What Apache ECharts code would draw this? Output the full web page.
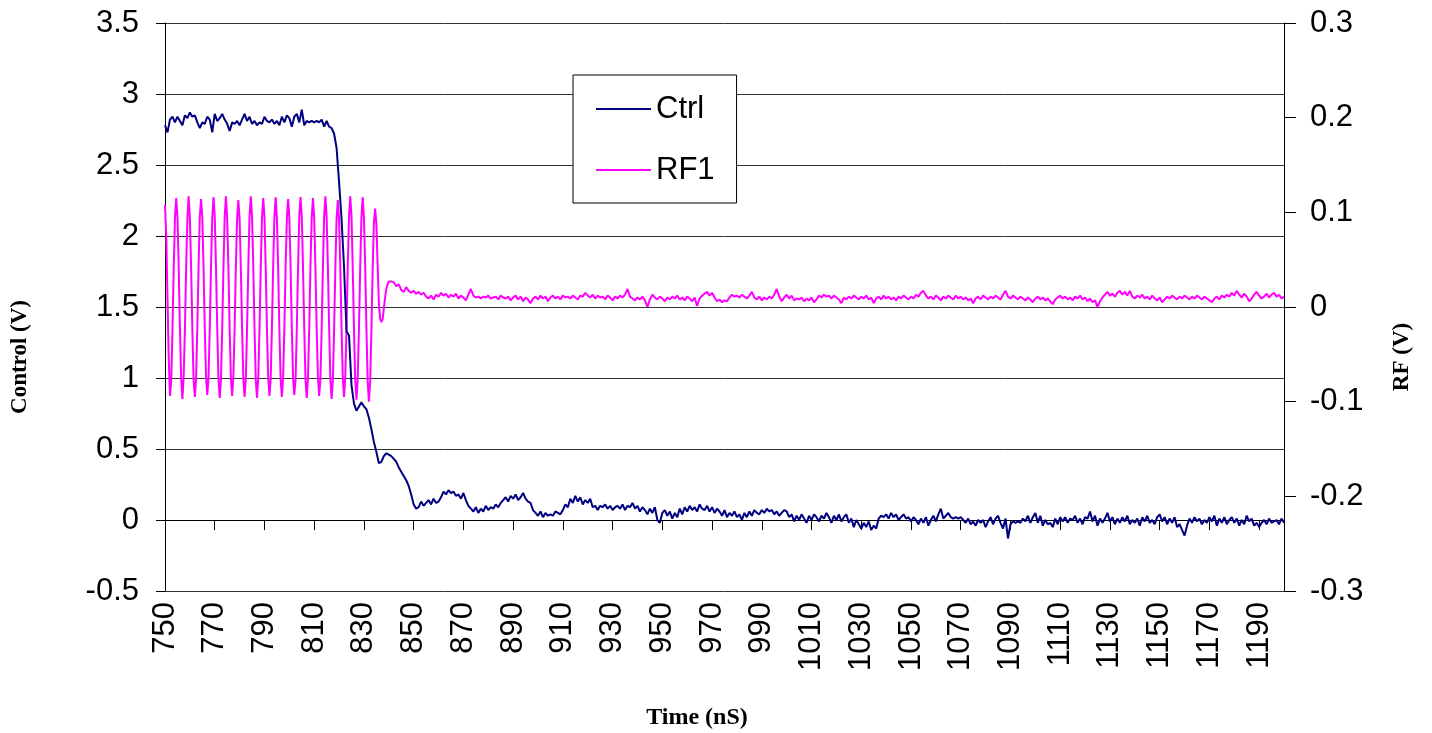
<!DOCTYPE html>
<html>
<head>
<meta charset="utf-8">
<title>Ctrl / RF1</title>
<script src="https://cdn.jsdelivr.net/npm/echarts@6/dist/echarts.min.js"></script>
<style>
  html, body { margin: 0; padding: 0; background: #fff; }
  #chart { width: 1432px; height: 733px; }
</style>
</head>
<body>
<div id="chart"></div>
<script>
// Ctrl trace, one sample per ns from 750 ns
var ctrlStart = 750, ctrlStep = 1;
var ctrlV = [
  // 750
  2.78, 2.73, 2.82, 2.84, 2.80, 2.84, 2.81, 2.78, 2.85, 2.83,
  2.87, 2.84, 2.85, 2.80, 2.76, 2.80, 2.79, 2.84, 2.82, 2.73,
  2.86, 2.81, 2.83, 2.86, 2.82, 2.79, 2.74, 2.80, 2.79, 2.81,
  2.78, 2.82, 2.86, 2.81, 2.84, 2.79, 2.81, 2.78, 2.80, 2.79,
  2.84, 2.81, 2.80, 2.82, 2.79, 2.81, 2.78, 2.84, 2.80, 2.85,
  // 800
  2.83, 2.77, 2.84, 2.86, 2.80, 2.89, 2.78, 2.81, 2.80, 2.81,
  2.80, 2.81, 2.80, 2.82, 2.77, 2.81, 2.77, 2.76, 2.72, 2.62,
  2.38, 2.12, 1.78, 1.33, 1.30, 0.95, 0.82, 0.77, 0.80, 0.83,
  0.80, 0.78, 0.72, 0.64, 0.55, 0.48, 0.40, 0.41, 0.45, 0.47,
  0.46, 0.45, 0.43, 0.41, 0.37, 0.34, 0.31, 0.28, 0.24, 0.18,
  // 850
  0.11, 0.08, 0.09, 0.13, 0.10, 0.12, 0.14, 0.11, 0.15, 0.12,
  0.13, 0.16, 0.20, 0.18, 0.21, 0.19, 0.20, 0.17, 0.18, 0.15,
  0.19, 0.14, 0.10, 0.08, 0.06, 0.09, 0.05, 0.08, 0.06, 0.10,
  0.07, 0.09, 0.08, 0.11, 0.09, 0.12, 0.14, 0.16, 0.13, 0.17,
  0.15, 0.18, 0.14, 0.16, 0.19, 0.15, 0.13, 0.12, 0.07, 0.05,
  // 900
  0.03, 0.06, 0.02, 0.05, 0.03, 0.04, 0.03, 0.06, 0.05, 0.04,
  0.07, 0.11, 0.09, 0.15, 0.12, 0.17, 0.13, 0.16, 0.11, 0.14,
  0.12, 0.15, 0.09, 0.10, 0.07, 0.10, 0.09, 0.11, 0.08, 0.10,
  0.07, 0.09, 0.10, 0.08, 0.11, 0.07, 0.10, 0.09, 0.12, 0.08,
  0.10, 0.06, 0.09, 0.07, 0.04, 0.08, 0.05, 0.09, 0.00, -0.02,
  // 950
  0.05, 0.07, 0.03, 0.06, 0.01, 0.05, 0.02, 0.08, 0.04, 0.09,
  0.06, 0.10, 0.07, 0.09, 0.06, 0.11, 0.08, 0.07, 0.10, 0.06,
  0.09, 0.05, 0.08, 0.06, 0.03, 0.07, 0.02, 0.05, 0.03, 0.06,
  0.02, 0.04, 0.00, 0.05, 0.02, 0.06, 0.03, 0.07, 0.05, 0.04,
  0.07, 0.05, 0.08, 0.06, 0.07, 0.04, 0.06, 0.03, 0.05, 0.07,
  // 1000
  0.06, 0.02, 0.04, -0.01, 0.03, 0.00, 0.04, 0.01, -0.02, 0.03,
  0.00, 0.04, 0.02, -0.01, 0.03, 0.01, 0.05, 0.02, -0.02, 0.03,
  0.00, 0.04, -0.01, 0.02, 0.04, -0.02, 0.01, -0.05, 0.00, -0.03,
  -0.06, -0.02, -0.05, -0.01, -0.07, -0.04, -0.06, 0.01, 0.03, 0.02,
  0.04, 0.01, 0.05, 0.02, 0.04, 0.00, 0.02, 0.04, 0.01, 0.02,
  // 1050
  -0.01, 0.02, 0.00, -0.03, 0.01, -0.02, 0.02, -0.04, 0.00, 0.03,
  -0.01, 0.04, 0.08, 0.01, 0.03, 0.05, 0.02, 0.01, 0.02, 0.01,
  0.02, 0.00, -0.02, 0.01, -0.03, -0.01, -0.04, 0.00, -0.02, 0.00,
  -0.05, -0.01, 0.02, -0.03, 0.01, 0.03, -0.02, -0.06, 0.01, -0.13,
  -0.03, -0.01, -0.02, -0.01, -0.02, 0.01, -0.01, 0.03, -0.02, 0.02,
  // 1100
  0.05, -0.02, 0.03, -0.04, 0.00, -0.03, -0.02, -0.05, 0.01, -0.03,
  0.02, -0.01, 0.02, -0.02, 0.01, 0.00, 0.03, -0.02, 0.01, -0.03,
  0.02, 0.01, 0.06, -0.01, 0.03, -0.04, 0.01, -0.02, 0.01, 0.05,
  -0.01, 0.02, -0.03, 0.01, -0.02, 0.02, -0.01, 0.03, -0.03, 0.00,
  -0.02, 0.01, -0.04, 0.02, -0.01, 0.03, -0.02, 0.00, -0.03, 0.02,
  // 1150
  0.04, -0.01, 0.02, -0.03, 0.01, -0.02, 0.02, -0.05, -0.03, -0.07,
  -0.11, -0.04, 0.01, -0.02, 0.02, -0.01, 0.01, -0.03, 0.00, -0.02,
  0.02, -0.01, 0.03, -0.04, 0.01, -0.02, 0.02, -0.03, 0.00, 0.02,
  -0.02, 0.01, -0.04, 0.00, -0.03, 0.03, -0.01, 0.01, -0.04, -0.02,
  -0.05, -0.02, 0.00, -0.03, 0.01, -0.02, -0.01, 0.00, -0.03, 0.01,
  // 1200
  -0.02
];

// RF1 burst, every 0.5 ns from 750 to 840 ns
var rfBurstStart = 750, rfBurstStep = 0.5;
var rfBurst = [
  0.108, 0.075, 0.010, -0.055, -0.094, -0.078, -0.025, 0.040, 0.094,
  // peak at 754.5
  0.115, 0.096, 0.043, -0.022, -0.075, -0.097, -0.074, -0.024, 0.041, 0.093,
  0.117, 0.094, 0.042, -0.024, -0.077, -0.095, -0.076, -0.022, 0.043, 0.096,
  0.114, 0.095, 0.041, -0.023, -0.074, -0.093, -0.075, -0.023, 0.042, 0.094,
  0.116, 0.096, 0.043, -0.021, -0.076, -0.096, -0.077, -0.024, 0.041, 0.095,
  0.117, 0.094, 0.042, -0.023, -0.075, -0.094, -0.074, -0.022, 0.043, 0.093,
  // peak at 779.5
  0.113, 0.093, 0.041, -0.024, -0.076, -0.095, -0.076, -0.023, 0.042, 0.096,
  0.117, 0.096, 0.043, -0.022, -0.077, -0.096, -0.075, -0.024, 0.041, 0.094,
  0.115, 0.095, 0.042, -0.023, -0.074, -0.094, -0.076, -0.022, 0.043, 0.095,
  0.116, 0.094, 0.041, -0.024, -0.076, -0.095, -0.074, -0.023, 0.042, 0.093,
  0.114, 0.095, 0.043, -0.022, -0.075, -0.093, -0.077, -0.024, 0.041, 0.096,
  // peak at 804.5
  0.116, 0.096, 0.042, -0.023, -0.077, -0.096, -0.075, -0.022, 0.043, 0.094,
  0.115, 0.094, 0.041, -0.024, -0.074, -0.094, -0.076, -0.023, 0.042, 0.095,
  0.117, 0.095, 0.043, -0.021, -0.076, -0.097, -0.077, -0.024, 0.041, 0.093,
  0.113, 0.093, 0.042, -0.023, -0.075, -0.095, -0.074, -0.022, 0.043, 0.096,
  0.117, 0.096, 0.041, -0.024, -0.077, -0.098, -0.076, -0.023, 0.042, 0.095,
  0.116, 0.094, 0.043, -0.022, -0.078, -0.100, -0.079, -0.025, 0.038, 0.088,
  // last peak at 834.5, then settling
  0.104, 0.088, 0.045, 0.005, -0.012, -0.016, -0.013, -0.002, 0.010, 0.019,
  0.024, 0.027
];

// RF1 after the burst, one sample per ns from 841 ns
var rfTailStart = 841, rfTailStep = 1;
var rfTail = [
  0.027, 0.026, 0.022, 0.024, 0.018, 0.016, 0.021, 0.017, 0.015,
  // 850
  0.017, 0.014, 0.016, 0.013, 0.015, 0.011, 0.009, 0.012, 0.008, 0.013,
  0.011, 0.015, 0.012, 0.014, 0.010, 0.013, 0.011, 0.014, 0.009, 0.012,
  0.010, 0.007, 0.013, 0.019, 0.012, 0.010, 0.011, 0.009, 0.011, 0.010,
  0.012, 0.009, 0.010, 0.011, 0.008, 0.012, 0.010, 0.009, 0.011, 0.007,
  0.010, 0.012, 0.008, 0.011, 0.006, 0.010, 0.008, 0.004, 0.009, 0.011,
  // 900
  0.008, 0.012, 0.009, 0.011, 0.006, 0.010, 0.012, 0.009, 0.011, 0.008,
  0.012, 0.010, 0.011, 0.009, 0.012, 0.010, 0.008, 0.012, 0.011, 0.015,
  0.012, 0.010, 0.013, 0.009, 0.012, 0.010, 0.011, 0.008, 0.012, 0.010,
  0.007, 0.011, 0.009, 0.012, 0.010, 0.013, 0.019, 0.011, 0.009, 0.007,
  0.010, 0.008, 0.011, 0.007, 0.000, 0.008, 0.013, 0.010, 0.008, 0.011,
  // 950
  0.009, 0.006, 0.010, 0.008, 0.011, 0.009, 0.012, 0.008, 0.010, 0.007,
  0.011, 0.009, 0.006, 0.010, 0.001, 0.009, 0.012, 0.014, 0.016, 0.012,
  0.015, 0.010, 0.006, 0.008, 0.005, 0.007, 0.006, 0.010, 0.013, 0.011,
  0.012, 0.010, 0.013, 0.011, 0.009, 0.012, 0.016, 0.010, 0.008, 0.011,
  0.007, 0.010, 0.008, 0.011, 0.009, 0.013, 0.019, 0.011, 0.006, 0.010,
  // 1000
  0.013, 0.009, 0.012, 0.007, 0.009, 0.008, 0.010, 0.006, 0.009, 0.007,
  0.010, 0.005, 0.008, 0.012, 0.010, 0.013, 0.011, 0.012, 0.009, 0.012,
  0.010, 0.008, 0.004, 0.010, 0.008, 0.011, 0.009, 0.012, 0.010, 0.008,
  0.011, 0.009, 0.012, 0.008, 0.010, 0.004, 0.009, 0.011, 0.008, 0.012,
  0.009, 0.011, 0.008, 0.010, 0.007, 0.011, 0.009, 0.012, 0.010, 0.008,
  // 1050
  0.011, 0.009, 0.013, 0.011, 0.015, 0.017, 0.012, 0.009, 0.011, 0.008,
  0.012, 0.010, 0.007, 0.011, 0.009, 0.012, 0.010, 0.008, 0.012, 0.009,
  0.011, 0.008, 0.010, 0.007, 0.009, 0.004, 0.009, 0.011, 0.008, 0.012,
  0.010, 0.008, 0.011, 0.009, 0.012, 0.010, 0.008, 0.013, 0.017, 0.011,
  0.009, 0.012, 0.010, 0.008, 0.011, 0.009, 0.007, 0.010, 0.008, 0.005,
  // 1100
  0.009, 0.011, 0.008, 0.010, 0.007, 0.009, 0.006, 0.003, 0.008, 0.010,
  0.012, 0.009, 0.011, 0.008, 0.010, 0.007, 0.011, 0.009, 0.012, 0.008,
  0.010, 0.006, 0.009, 0.005, 0.007, 0.000, 0.006, 0.010, 0.013, 0.016,
  0.012, 0.014, 0.011, 0.015, 0.017, 0.013, 0.016, 0.012, 0.017, 0.011,
  0.009, 0.012, 0.010, 0.013, 0.009, 0.011, 0.008, 0.012, 0.009, 0.007,
  // 1150
  0.010, 0.005, 0.008, 0.011, 0.009, 0.012, 0.010, 0.008, 0.011, 0.009,
  0.012, 0.010, 0.008, 0.011, 0.009, 0.012, 0.010, 0.008, 0.011, 0.009,
  0.007, 0.005, 0.009, 0.011, 0.008, 0.012, 0.010, 0.013, 0.011, 0.015,
  0.012, 0.017, 0.013, 0.010, 0.014, 0.011, 0.006, 0.009, 0.013, 0.016,
  0.012, 0.009, 0.011, 0.014, 0.010, 0.013, 0.015, 0.011, 0.013, 0.009,
  // 1200
  0.011
];

var seriesNames = ["Ctrl", "RF1"];

// pair each value with its sample time
var ctrlData = ctrlV.map(function (v, i) {
  return [ctrlStart + i * ctrlStep, v];
});
var rfData = rfBurst.map(function (v, i) {
  return [rfBurstStart + i * rfBurstStep, v];
}).concat(rfTail.map(function (v, i) {
  return [rfTailStart + i * rfTailStep, v];
}));

var sans = "Liberation Sans, Arial, sans-serif";
var serif = "Liberation Serif, Times New Roman, serif";

var chart = echarts.init(document.getElementById("chart"));
chart.setOption({
  animation: false,
  backgroundColor: "#fff",
  grid: { left: 165, right: 148, top: 23, bottom: 142, containLabel: false },
  legend: {
    data: seriesNames,
    orient: "vertical",
    left: 573,
    top: 75,
    padding: [18, 22, 17, 23],
    itemGap: 29,
    icon: "rect",
    itemWidth: 55,
    itemHeight: 2,
    backgroundColor: "#fff",
    borderColor: "#000",
    borderWidth: 1,
    borderRadius: 0,
    textStyle: { fontFamily: sans, fontSize: 31, color: "#000", lineHeight: 32 }
  },
  xAxis: {
    type: "value",
    min: 750,
    max: 1200,
    interval: 20,
    axisLine: { lineStyle: { color: "#000", width: 1 } },
    axisTick: { show: true, length: 10, lineStyle: { color: "#000" } },
    splitLine: { show: false },
    axisLabel: {
      rotate: 90,
      margin: 11,
      showMaxLabel: false,
      fontFamily: sans,
      fontSize: 31,
      color: "#000",
      formatter: function (v) { return String(v); }
    }
  },
  yAxis: [
    {
      type: "value",
      min: -0.5,
      max: 3.5,
      interval: 0.5,
      position: "left",
      axisLine: { show: true, lineStyle: { color: "#000", width: 1 } },
      axisTick: { show: true, length: 9, lineStyle: { color: "#000" } },
      splitLine: { show: true, lineStyle: { color: "#333", width: 1 } },
      axisLabel: { margin: 26, fontFamily: sans, fontSize: 31, color: "#000" }
    },
    {
      type: "value",
      min: -0.3,
      max: 0.3,
      interval: 0.1,
      position: "right",
      axisLine: { show: true, lineStyle: { color: "#000", width: 1 } },
      axisTick: { show: true, length: 12, lineStyle: { color: "#000" } },
      splitLine: { show: false },
      axisLabel: { margin: 26, fontFamily: sans, fontSize: 31, color: "#000" }
    }
  ],
  graphic: [
    {
      type: "text",
      x: 697,
      y: 706,
      style: {
        text: "Time (nS)",
        font: "bold 24px " + serif,
        fill: "#000",
        align: "center",
        verticalAlign: "top"
      }
    },
    {
      type: "text",
      x: 9,
      y: 357,
      rotation: Math.PI / 2,
      style: {
        text: "Control (V)",
        font: "bold 23px " + serif,
        fill: "#000",
        align: "center",
        verticalAlign: "top"
      }
    },
    {
      type: "text",
      x: 1391,
      y: 357,
      rotation: Math.PI / 2,
      style: {
        text: "RF (V)",
        font: "bold 23px " + serif,
        fill: "#000",
        align: "center",
        verticalAlign: "top"
      }
    }
  ],
  series: [
    {
      name: "RF1",
      type: "line",
      yAxisIndex: 1,
      data: rfData,
      symbol: "none",
      z: 2,
      color: "#ff00ff",
      lineStyle: { color: "#ff00ff", width: 2 }
    },
    {
      name: "Ctrl",
      type: "line",
      yAxisIndex: 0,
      data: ctrlData,
      symbol: "none",
      z: 3,
      color: "#000080",
      lineStyle: { color: "#000080", width: 2 }
    }
  ]
});
</script>
</body>
</html>
